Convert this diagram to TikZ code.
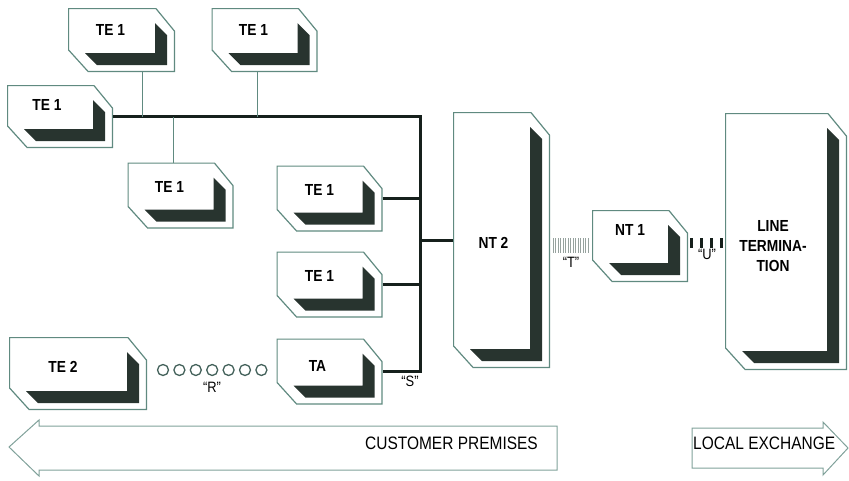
\documentclass[tikz,border=0pt]{standalone}
\usepackage{fontspec}
\setmainfont{Liberation Sans}[FakeStretch=0.86]
\definecolor{boxEdge}{RGB}{96, 138, 128}
\definecolor{boxShade}{RGB}{40, 52, 47}
\definecolor{busLine}{RGB}{22, 32, 28}
\definecolor{hatchGray}{RGB}{150, 162, 158}
\usetikzlibrary{calc}

\begin{document}
\begin{tikzpicture}[x=1pt, y=-1pt,
  dev/.style={rectangle, inner sep=0pt, outer sep=0pt,
    path picture={
      \fill[boxShade] let \p1=(path picture bounding box.north west),
                          \p2=(path picture bounding box.south east) in
        (\x2-20pt,\y1-15pt) -- (\x2-8pt,\y1-27pt) -- (\x2-8pt,\y2+7pt)
        -- (\x1+29pt,\y2+7pt) -- (\x1+17pt,\y2+19pt) -- (\x2-20pt,\y2+19pt) -- cycle;
      \draw[boxEdge, line width=1.2pt] let \p1=(path picture bounding box.north west),
                          \p2=(path picture bounding box.south east) in
        (\x1+0.6pt,\y1-0.6pt) -- (\x2-19pt,\y1-0.6pt) -- (\x2-0.6pt,\y1-23pt)
        -- (\x2-0.6pt,\y2+0.6pt) -- (\x1+20pt,\y2+0.6pt) -- (\x1+0.6pt,\y2+22pt) -- cycle;
    }},
  te/.style={dev, minimum width=106pt, minimum height=66pt},
  lbl/.style={font=\bfseries\fontsize{16}{20}\selectfont, align=center, inner sep=0pt},
  tag/.style={font=\fontsize{15}{17}\selectfont, inner sep=0pt},
  zone/.style={font=\fontsize{18}{20}\selectfont, inner sep=0pt},
  bus/.style={busLine, line width=3pt},
  drop/.style={boxEdge, line width=1.2pt},
  hatch/.style={hatchGray, line width=0.8pt},
  ubar/.style={busLine, line width=3pt},
  ring/.style={boxEdge!70!black, line width=1.3pt},
  banner/.style={boxEdge!80, line width=1pt, line join=miter},
]
  \useasboundingbox (0,0) rectangle (849,480);

  % terminals
  \node[te, minimum width=107pt, minimum height=64pt] (teA) at (121.5,40) {};
  \node[te, minimum height=64pt] (teB) at (264.5,40) {};
  \node[te, minimum height=63pt] (teC) at (60,116.5) {};
  \node[te] (teD) at (180.5,195.5) {};
  \node[te] (teE) at (329.5,198.5) {};
  \node[te] (teF) at (329.5,284.5) {};
  \node[te] (ta) at (329.5,371.5) {};
  \node[dev, minimum width=138pt, minimum height=73pt] (te2) at (78,373.5) {};

  % network side
  \node[dev, minimum width=97pt, minimum height=256pt] (nt2) at (501.5,240) {};
  \node[dev, minimum width=96pt, minimum height=72pt] (nt1) at (640,246) {};
  \node[dev, minimum width=122pt, minimum height=257pt] (lt) at (786,241.5) {};

  \node[lbl] (teA-l) at ([shift={(-11,-10)}]teA.center) {TE 1};
  \node[lbl] (teB-l) at ([shift={(-11,-10)}]teB.center) {TE 1};
  \node[lbl] (teC-l) at ([shift={(-13,-12)}]teC.center) {TE 1};
  \node[lbl] (teD-l) at ([shift={(-11,-9)}]teD.center) {TE 1};
  \node[lbl] (teE-l) at ([shift={(-10,-9)}]teE.center) {TE 1};
  \node[lbl] (teF-l) at ([shift={(-10,-9)}]teF.center) {TE 1};
  \node[lbl] (ta-l) at ([shift={(-12,-6)}]ta.center) {TA};
  \node[lbl] (te2-l) at ([shift={(-15,-7)}]te2.center) {TE 2};
  \node[lbl] (nt2-l) at ([shift={(-8,3)}]nt2.center) {NT 2};
  \node[lbl] (nt1-l) at ([shift={(-10,-16)}]nt1.center) {NT 1};
  \node[lbl] (lt-l) at ([shift={(-13,5)}]lt.center) {LINE\\TERMINA-\\TION};

  % S bus
  \coordinate (bTop) at (420,117);
  \draw[bus] (teC.east) -| (ta.east -| bTop) -- (ta.east);
  \draw[bus] (teE.east) -- (teE.east -| bTop);
  \draw[bus] (teF.east) -- (teF.east -| bTop);
  \draw[bus] (nt2.west) -- (nt2.west -| bTop);
  \draw[drop] ([xshift=21pt]teA.south) -- ([xshift=21pt]teA.south |- teC.east);
  \draw[drop] ([xshift=-7pt]teB.south) -- ([xshift=-7pt]teB.south |- teC.east);
  \draw[drop] ([xshift=-7pt]teD.north) -- ([xshift=-7pt]teD.north |- teC.east);

  % R, T and U reference points
  \foreach \k in {0,...,6}
    \draw[ring] ($(te2.east)+(16+16.4*\k,-3.5)$) circle (5.5);
  \foreach \k in {0,...,14}
    \draw[hatch] ($(nt1.west -| nt2.east)+(3+2.5*\k,-8)$) -- ++(0,15);
  \foreach \k in {0,...,3}
    \draw[ubar] ($(nt1.east)+(3+10*\k,-8)$) -- ++(0,10);

  \node[tag] (tagR) at (212,387) {``R''};
  \node[tag] (tagS) at (410,381) {``S''};
  \node[tag] (tagT) at (571,262) {``T''};
  \node[tag] (tagU) at (707,254) {``U''};

  % premises banners
  \draw[banner] (9,447) -- (39,420) -- (39,426) -- (557,426) -- (557,470)
    -- (39,470) -- (39,476) -- cycle;
  \draw[banner] (692,428) -- (823,428) -- (823,422) -- (848,448) -- (823,475)
    -- (823,468) -- (692,468) -- cycle;
  \node[zone, anchor=east] (cust) at (538,443) {CUSTOMER PREMISES};
  \node[zone, anchor=west] (lex) at (693,443) {LOCAL EXCHANGE};
\end{tikzpicture}
\end{document}
